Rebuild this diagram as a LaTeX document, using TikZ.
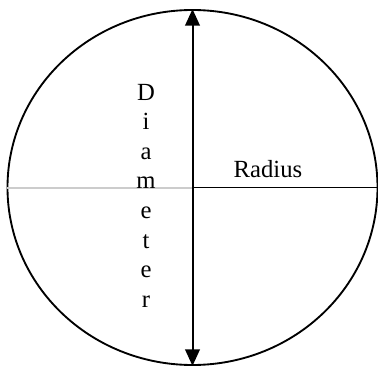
\documentclass[tikz,border=0pt]{standalone}
\usepackage{fontspec}
\setmainfont{Liberation Serif}
\usetikzlibrary{arrows.meta,shapes.geometric}

\begin{document}
\begin{tikzpicture}[
    x=0.75pt, y=-0.75pt,
    >={Triangle[length=12.5pt,width=11pt]},
    every node/.style={font=\fontsize{18.5}{22}\selectfont, inner sep=0pt},
    rim/.style={line width=1.4pt},
    axisline/.style={line width=1.3pt},
  ]
  \useasboundingbox (0,0) rectangle (378,367);

  % ---- the oval ------------------------------------------------------
  \node[ellipse, draw, rim, inner sep=0pt,
        minimum width=277.5pt, minimum height=266.25pt] (oval) at (192.5,187.5) {};

  % ---- radius, left half grey ----------------------------------------
  \draw[gray!40, line width=1.5pt] (oval.west) -- (oval.center);
  \draw[axisline] (oval.center) -- (oval.east);
  \node[anchor=base] (rad) at (268,177) {Radius};

  % ---- diameter, top to bottom ---------------------------------------
  \draw[<->, line width=1.5pt] (oval.south) -- (oval.north);
  \foreach \ch [count=\k] in {D,i,a,m,e,t,e,r}
    \node[anchor=base] (d\k) at (146, 100.5+29.5*\k-29.5) {\ch};

\end{tikzpicture}
\end{document}
